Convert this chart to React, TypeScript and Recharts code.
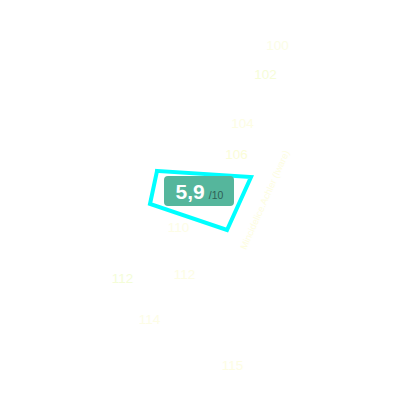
import React from 'react';
import { ComposedChart, Line, Scatter, XAxis, YAxis, LabelList } from 'recharts';

// scale labels scattered along the picture
const scaleLabels = ['100', '102', '104', '106', '110', '112', '112', '114', '115'];
const scaleX = [277, 265, 242, 236, 178, 122, 184, 149, 232];
const scaleY = [45, 74, 123, 154, 227, 278, 274, 319, 365];
const scaleColors = ['#fbfde6', '#f6fdd8', '#fdfde4', '#fbfdd8', '#fdfde6', '#f4fdd8', '#fdfde4', '#fdfde6', '#fdfde4'];

// outline of the score shape
const shapeX = [157, 251, 227, 150, 157];
const shapeY = [171, 177, 230, 204, 171];

const captionText = 'Mincidelice.Achler (Iware)';

const labelData = scaleLabels.map((label, i) => ({ x: scaleX[i], y: scaleY[i], label, color: scaleColors[i] }));
const shapeData = shapeX.map((x, i) => ({ x, y: shapeY[i] }));

const ScaleLabel = (props: any) => {
  const { x, y, value, index } = props;
  return (
    <text x={x + 5} y={y + 5} dy={5} textAnchor="middle" fontSize={13.5} fontFamily="Liberation Sans, Arial, sans-serif" fill={labelData[index].color}>
      {value}
    </text>
  );
};

const App = () => {
  return (
    <div style={{ position: 'absolute', left: 0, top: 0, width: 400, height: 400, background: '#fff', overflow: 'hidden' }}>
      <ComposedChart width={400} height={400} margin={{ top: 0, right: 0, bottom: 0, left: 0 }}>
        <XAxis type="number" dataKey="x" domain={[0, 400]} hide />
        <YAxis type="number" dataKey="y" domain={[0, 400]} reversed hide />
        <Line
          data={shapeData}
          dataKey="y"
          type="linear"
          stroke="#00ffff"
          strokeWidth={4}
          strokeLinejoin="miter"
          strokeLinecap="square"
          dot={false}
          isAnimationActive={false}
        />
        <Scatter data={labelData} dataKey="y" shape={() => <g />} isAnimationActive={false}>
          <LabelList dataKey="label" content={<ScaleLabel />} />
        </Scatter>
      </ComposedChart>
      <div style={{ position: 'absolute', left: 265, top: 200, width: 120, marginLeft: -60, marginTop: -6, transform: 'rotate(-66deg)', fontFamily: 'Liberation Sans, Arial, sans-serif', fontSize: 9.4, lineHeight: '12px', color: '#fdfde0', whiteSpace: 'nowrap', textAlign: 'center' }}>
        {captionText}
      </div>
      <div style={{ position: 'absolute', left: 164, top: 176, width: 70, height: 30, background: '#55b69c', borderRadius: 4, fontFamily: 'Liberation Sans, Arial, sans-serif', display: 'flex', alignItems: 'baseline', justifyContent: 'center', lineHeight: '32px', paddingLeft: 1, boxSizing: 'border-box' }}>
        <span style={{ color: '#fff', fontSize: 21, fontWeight: 700 }}>5,9</span>
        <span style={{ color: '#2f5f55', fontSize: 10.5, marginLeft: 4 }}>/10</span>
      </div>
    </div>
  );
};

export default App;
